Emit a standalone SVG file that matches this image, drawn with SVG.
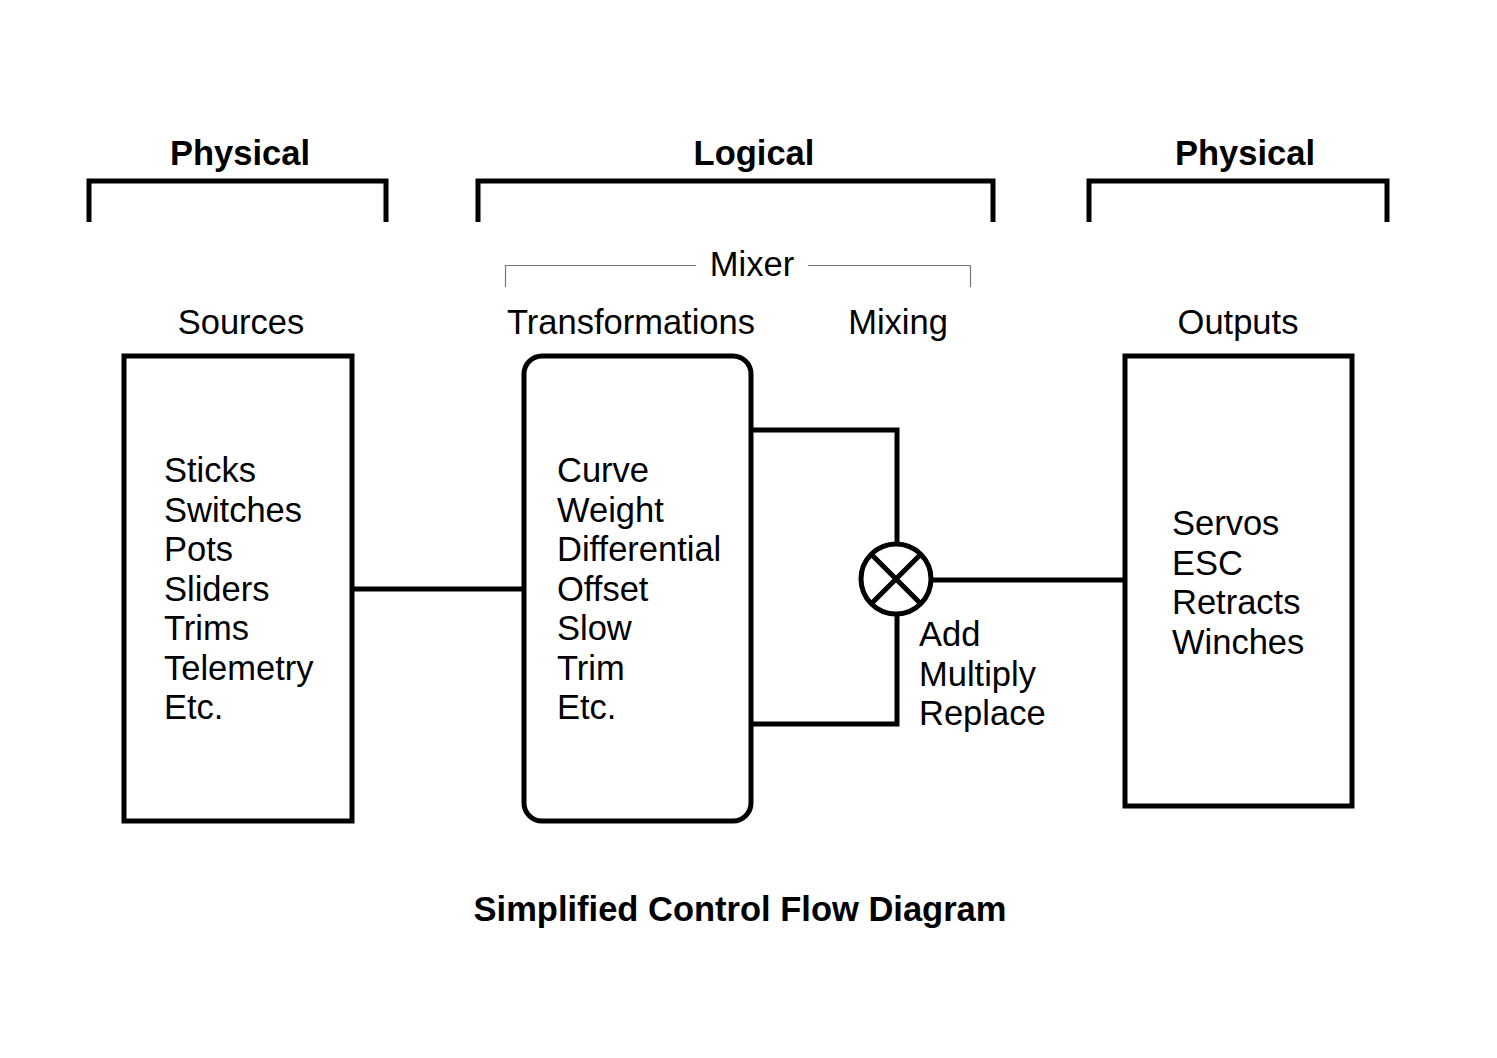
<svg xmlns="http://www.w3.org/2000/svg" width="1497" height="1058" viewBox="0 0 1497 1058">
<style>
text{font-family:"Liberation Sans",Arial,sans-serif;font-size:34.5px;fill:#000}
.h{font-weight:bold}
.c{text-anchor:middle}
.br{fill:none;stroke:#000;stroke-width:5}
.box{fill:none;stroke:#000;stroke-width:5}
.ln{fill:none;stroke:#000;stroke-width:5}
.thin{fill:none;stroke:#777;stroke-width:1.2}
</style>
<rect width="1497" height="1058" fill="#fff"/>
<g id="headers">
<text class="h c" x="240" y="165">Physical</text>
<text class="h c" x="754" y="165">Logical</text>
<text class="h c" x="1245" y="165">Physical</text>
<path class="br" d="M89,222 V181 H386 V222"/>
<path class="br" d="M478,222 V181 H993 V222"/>
<path class="br" d="M1089,222 V181 H1387 V222"/>
</g>
<g id="mixer-label">
<path class="thin" d="M505.5,287 V265.5 H696 M808,265.5 H970.5 V287"/>
<text class="c" x="752" y="276">Mixer</text>
</g>
<g id="connectors">
<path class="ln" d="M352,589 H524"/>
<path class="ln" d="M751,430 H897 V545"/>
<path class="ln" d="M751,724 H897 V614"/>
<path class="ln" d="M931,580 H1125"/>
</g>
<g id="sources">
<text class="c" x="241" y="334">Sources</text>
<rect class="box" x="124" y="356" width="228" height="465"/>
<text x="164" y="482">Sticks</text>
<text x="164" y="521.5">Switches</text>
<text x="164" y="561">Pots</text>
<text x="164" y="600.5">Sliders</text>
<text x="164" y="640">Trims</text>
<text x="164" y="679.5">Telemetry</text>
<text x="164" y="719">Etc.</text>
</g>
<g id="transformations">
<text class="c" x="631" y="334">Transformations</text>
<rect class="box" x="524" y="356" width="227" height="465" rx="18"/>
<text x="557" y="482">Curve</text>
<text x="557" y="521.5">Weight</text>
<text x="557" y="561">Differential</text>
<text x="557" y="600.5">Offset</text>
<text x="557" y="640">Slow</text>
<text x="557" y="679.5">Trim</text>
<text x="557" y="719">Etc.</text>
</g>
<g id="mixing">
<text class="c" x="898" y="334">Mixing</text>
<circle class="ln" cx="896" cy="579" r="35"/>
<path class="ln" d="M871,554 L921,604 M921,554 L871,604"/>
<text x="919" y="646">Add</text>
<text x="919" y="685.5">Multiply</text>
<text x="919" y="725">Replace</text>
</g>
<g id="outputs">
<text class="c" x="1238" y="334">Outputs</text>
<rect class="box" x="1125" y="356" width="227" height="450"/>
<text x="1172" y="535">Servos</text>
<text x="1172" y="574.5">ESC</text>
<text x="1172" y="614">Retracts</text>
<text x="1172" y="653.5">Winches</text>
</g>
<g id="title">
<text class="h c" x="740" y="921">Simplified Control Flow Diagram</text>
</g>
</svg>
